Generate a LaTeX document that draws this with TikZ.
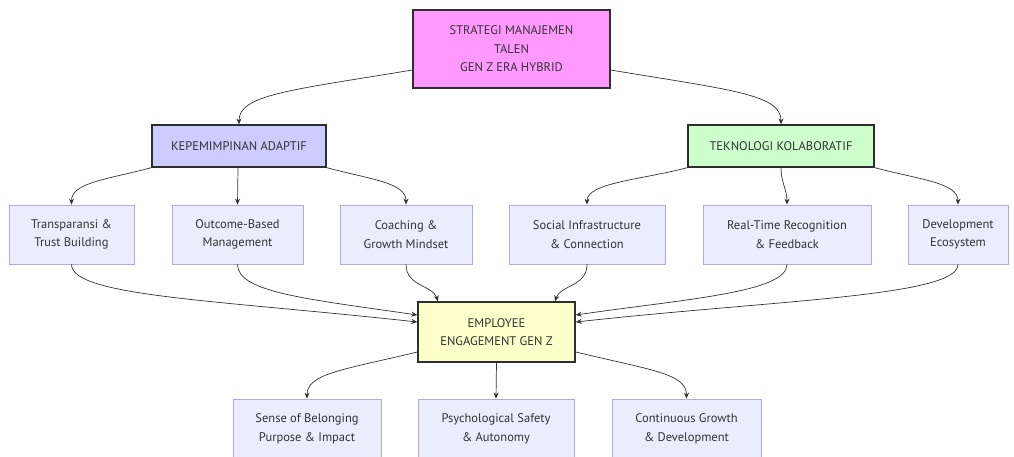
\documentclass[tikz,border=0pt]{standalone}
\usepackage{fontspec}
\setmainfont{PT Sans}
\usetikzlibrary{arrows.meta}
\definecolor{txt}{HTML}{333333}
\definecolor{edgec}{HTML}{333333}
\definecolor{boxfill}{HTML}{ECECFF}
\definecolor{boxline}{HTML}{B4A7E5}
\definecolor{pinkf}{HTML}{FF99FF}
\definecolor{bluef}{HTML}{CCCCFF}
\definecolor{greenf}{HTML}{CCFFCC}
\definecolor{yellowf}{HTML}{FFFFCC}
\tikzset{
  base/.style={rectangle, inner sep=0pt, text=txt, align=center,
    font=\fontsize{12.5}{18.5}\selectfont},
  plain/.style={base, draw=boxline, fill=boxfill, line width=0.8pt},
  strong/.style={base, draw=edgec!90!black, line width=1.3pt},
  link/.style={draw=edgec, line width=0.7pt, -{Stealth[length=6pt,width=5pt]}},
}
\begin{document}
\begin{tikzpicture}[x=1pt,y=-1pt]
\useasboundingbox (0,0) rectangle (1014,456);
\begin{scope}
\clip (0,0) rectangle (1014,456);
% top
\node[strong, fill=pinkf, minimum width=197pt, minimum height=78pt] (top) at (511.5,49) {STRATEGI MANAJEMEN\\TALEN\\GEN Z ERA HYBRID};
\node[strong, fill=bluef, minimum width=174pt, minimum height=42pt] (kep) at (239,146) {KEPEMIMPINAN ADAPTIF};
\node[strong, fill=greenf, minimum width=186pt, minimum height=42pt] (tek) at (781,146) {TEKNOLOGI KOLABORATIF};
% row 2
\node[plain, minimum width=125pt, minimum height=59pt] (n1) at (71.5,234.5) {Transparansi \&\\Trust Building};
\node[plain, minimum width=131pt, minimum height=59pt] (n2) at (237.5,234.5) {Outcome-Based\\Management};
\node[plain, minimum width=132pt, minimum height=59pt] (n3) at (406,234.5) {Coaching \&\\Growth Mindset};
\node[plain, minimum width=156pt, minimum height=59pt] (n4) at (587,234.5) {Social Infrastructure\\\& Connection};
\node[plain, minimum width=168pt, minimum height=59pt] (n5) at (787,234.5) {Real-Time Recognition\\\& Feedback};
\node[plain, minimum width=100pt, minimum height=59pt] (n6) at (958,234.5) {Development\\Ecosystem};
% engagement
\node[strong, fill=yellowf, minimum width=157pt, minimum height=60pt] (emp) at (496.5,332) {EMPLOYEE\\ENGAGEMENT GEN Z};
% bottom
\node[plain, minimum width=148pt, minimum height=60pt] (b1) at (307,429) {Sense of Belonging\\Purpose \& Impact};
\node[plain, minimum width=156pt, minimum height=60pt] (b2) at (496,429) {Psychological Safety\\\& Autonomy};
\node[plain, minimum width=149pt, minimum height=60pt] (b3) at (686.5,429) {Continuous Growth\\\& Development};
% edges top
\draw[link] ([yshift=-21pt]top.west) .. controls +(-120,20) and +(0,-30) .. (kep.north);
\draw[link] ([yshift=-21pt]top.east) .. controls +(120,20) and +(0,-30) .. (tek.north);
\draw[link] (kep.south west) .. controls +(-45,12) and +(0,-22) .. (n1.north);
\draw[link] ([xshift=-1pt]kep.south) -- (n2.north);
\draw[link] (kep.south east) .. controls +(45,12) and +(0,-22) .. (n3.north);
\draw[link] (tek.south west) .. controls +(-45,12) and +(0,-22) .. (n4.north);
\draw[link] (tek.south) .. controls +(0,15) and +(0,-15) .. (n5.north);
\draw[link] (tek.south east) .. controls +(45,12) and +(0,-22) .. (n6.north);
% edges into engagement
\draw[link] (n1.south) .. controls +(0,32) and +(-200,-22) .. ([yshift=10pt]emp.west);
\draw[link] (n2.south) .. controls +(0,28) and +(-110,-16) .. ([yshift=17pt]emp.west);
\draw[link] (n3.south) .. controls +(0,22) and +(-5,-16) .. ([xshift=-58.5pt]emp.north);
\draw[link] (n4.south) .. controls +(0,22) and +(5,-16) .. ([xshift=58.5pt]emp.north);
\draw[link] (n5.south) .. controls +(0,28) and +(110,-16) .. ([yshift=17pt]emp.east);
\draw[link] (n6.south) .. controls +(0,32) and +(200,-22) .. ([yshift=10pt]emp.east);
% edges out of engagement
\draw[link] ([yshift=-20pt]emp.west) .. controls +(-75,18) and +(0,-25) .. (b1.north);
\draw[link] (emp.south) -- (b2.north);
\draw[link] ([yshift=-20pt]emp.east) .. controls +(75,18) and +(0,-25) .. (b3.north);
\end{scope}
\end{tikzpicture}
\end{document}
